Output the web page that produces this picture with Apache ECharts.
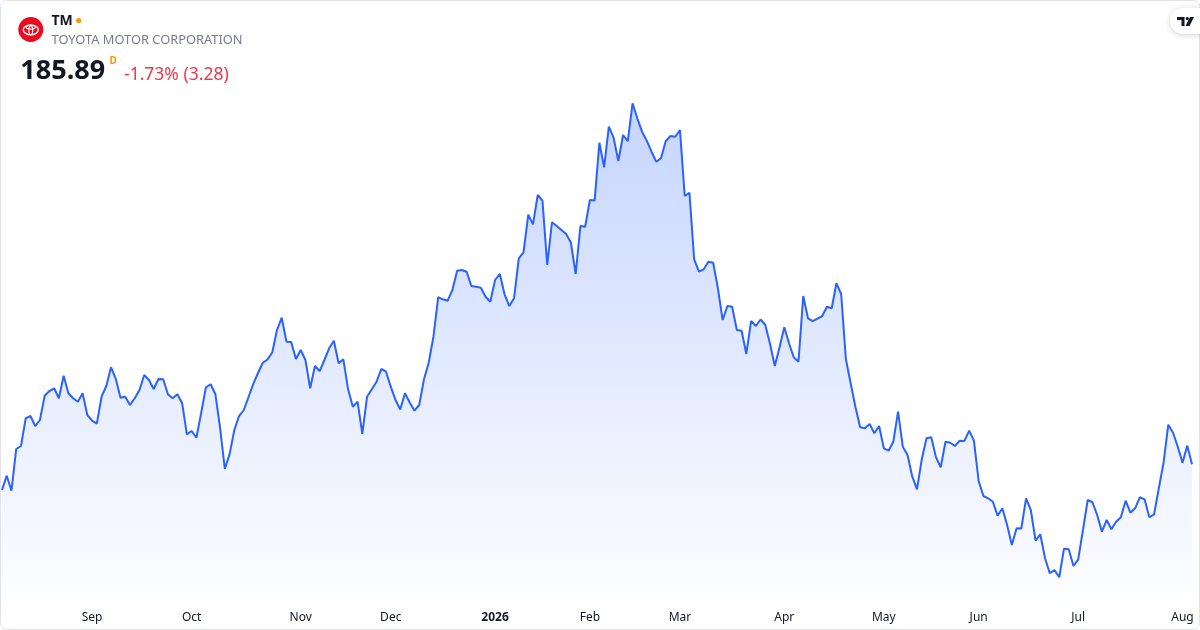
<!DOCTYPE html>
<html>
<head>
<meta charset="utf-8">
<title>TM</title>
<script src="https://cdn.jsdelivr.net/npm/echarts@6.0.0/dist/echarts.min.js"></script>
<style>
  html, body { margin: 0; padding: 0; background: #fff; }
  #main { width: 1200px; height: 630px; }
</style>
</head>
<body>
<div id="main"></div>
<script>
// daily closes, TM, Aug 5 2025 -> Aug 5 2026
var closes = [
  181.36, 183.88, 181.24, 188.58, 189.10, 193.98, 194.38, 192.62, 193.68, 197.96,
  198.78, 199.26, 197.50, 201.48, 198.38, 197.50, 196.90, 198.38, 194.56, 193.56,
  193.03, 197.78, 199.66, 202.96, 200.90, 197.60, 197.78, 196.32, 197.50, 198.96,
  201.60, 200.72, 199.14, 200.90, 200.84, 198.20, 197.50, 198.20, 196.62, 191.16,
  191.74, 190.56, 194.86, 199.40, 199.98, 198.26, 192.27, 185.06, 187.64, 191.92,
  194.38, 195.44, 197.73, 200.02, 201.95, 203.76, 204.33, 205.56, 209.52, 211.68,
  207.46, 207.40, 204.42, 206.00, 204.24, 199.26, 203.18, 202.30, 204.24, 206.30,
  207.64, 203.66, 204.36, 199.08, 196.02, 196.90, 191.22, 197.78, 199.08, 200.42,
  202.66, 202.18, 199.54, 197.20, 195.53, 198.38, 196.76, 195.32, 196.32, 200.84,
  203.76, 208.34, 215.28, 214.92, 214.68, 216.56, 219.96, 220.08, 219.78, 217.26,
  217.14, 216.96, 215.38, 214.50, 218.32, 219.38, 215.80, 213.74, 215.10, 222.14,
  223.20, 229.81, 228.12, 233.28, 232.28, 220.96, 228.48, 227.82, 227.12, 226.42,
  224.88, 219.38, 227.82, 227.70, 232.40, 232.30, 242.48, 238.16, 245.30, 243.36,
  239.26, 243.84, 242.78, 249.42, 246.78, 244.42, 242.84, 240.90, 239.14, 239.74,
  242.78, 243.66, 243.54, 244.72, 233.10, 233.68, 221.96, 219.78, 220.20, 221.54,
  221.36, 216.86, 211.28, 213.74, 213.62, 209.52, 209.40, 205.30, 211.10, 210.22,
  211.37, 210.40, 207.06, 203.18, 206.48, 210.00, 207.18, 204.72, 203.94, 215.50,
  211.58, 211.10, 211.51, 211.98, 213.62, 213.34, 217.74, 215.86, 204.36, 200.14,
  196.02, 192.40, 192.22, 192.98, 191.34, 192.62, 188.70, 188.28, 189.86, 195.14,
  188.98, 187.52, 183.70, 181.48, 186.76, 190.46, 190.64, 187.12, 185.36, 189.86,
  189.68, 189.10, 190.04, 190.00, 191.80, 190.04, 182.94, 180.30, 179.90, 179.30,
  176.84, 178.14, 175.20, 171.68, 174.62, 174.58, 179.90, 177.84, 172.44, 173.56,
  169.34, 166.70, 167.28, 166.00, 171.03, 170.92, 167.98, 169.16, 174.32, 179.60,
  179.20, 176.96, 174.02, 176.08, 174.44, 175.78, 176.56, 179.48, 177.36, 178.14,
  180.08, 179.72, 176.56, 177.08, 181.66, 186.16, 192.85, 191.44, 188.98, 186.16,
  189.17, 185.89
];

var startDay = '2025-08-05';
var holidays = ['2025-09-01', '2025-11-27', '2025-12-25', '2026-01-01', '2026-01-19',
  '2026-02-16', '2026-04-03', '2026-05-25', '2026-06-19', '2026-07-03'];
var monthNames = ['Jan', 'Feb', 'Mar', 'Apr', 'May', 'Jun', 'Jul', 'Aug', 'Sep', 'Oct', 'Nov', 'Dec'];

var ticker = 'TM';
var company = 'TOYOTA MOTOR CORPORATION';
var lastPrice = '185.89';
var change = '-1.73% (3.28)';

// trading days only
var dates = [];
var d = new Date(startDay + 'T00:00:00Z');
while (dates.length < closes.length) {
  var s = d.toISOString().slice(0, 10);
  var wd = d.getUTCDay();
  if (wd !== 0 && wd !== 6 && holidays.indexOf(s) < 0) dates.push(s);
  d.setUTCDate(d.getUTCDate() + 1);
}

function monthStart(i) {
  return i > 0 && dates[i].slice(5, 7) !== dates[i - 1].slice(5, 7);
}

var myChart = echarts.init(document.getElementById('main'));

var font = '"Noto Sans", Roboto, sans-serif';

var option = {
  animation: false,
  backgroundColor: '#ffffff',
  grid: { left: 2, right: 8, top: 0, bottom: 30 },
  xAxis: {
    type: 'category',
    data: dates,
    boundaryGap: false,
    axisLine: { show: false },
    axisTick: { show: false },
    splitLine: { show: false },
    axisLabel: {
      margin: 12,
      interval: function (index) { return monthStart(index); },
      formatter: function (value) {
        var m = +value.slice(5, 7);
        if (m === 1) return '{y|' + value.slice(0, 4) + '}';
        return '{m|' + monthNames[m - 1] + '}';
      },
      rich: {
        m: { fontSize: 12, color: '#131722', fontFamily: font },
        y: { fontSize: 12, color: '#131722', fontFamily: font, fontWeight: 'bold' }
      }
    }
  },
  yAxis: {
    type: 'value',
    show: false,
    min: 162,
    max: 267.6,
    splitLine: { show: false }
  },
  series: [{
    type: 'line',
    data: closes,
    symbol: 'none',
    lineStyle: { width: 2, color: '#2962ff' },
    areaStyle: {
      color: new echarts.graphic.LinearGradient(0, 0, 0, 1, [
        { offset: 0, color: 'rgba(41, 98, 255, 0.38)' },
        { offset: 1, color: 'rgba(41, 98, 255, 0.01)' }
      ])
    }
  }],
  graphic: [
    // frame
    { type: 'rect', shape: { x: 0.5, y: 0.5, width: 1199, height: 629, r: 6 },
      style: { fill: 'none', stroke: '#e0e3eb', lineWidth: 1 }, z: 10 },
    // toyota badge
    { type: 'circle', shape: { cx: 30.8, cy: 29.5, r: 12.5 }, style: { fill: '#eb0a1e' }, z: 10 },
    { type: 'ellipse', shape: { cx: 30.8, cy: 29.8, rx: 7.5, ry: 5 },
      style: { fill: 'none', stroke: '#fff', lineWidth: 1.3 }, z: 11 },
    { type: 'ellipse', shape: { cx: 30.8, cy: 27.3, rx: 4.6, ry: 1.8 },
      style: { fill: 'none', stroke: '#fff', lineWidth: 1.1 }, z: 11 },
    { type: 'ellipse', shape: { cx: 30.8, cy: 30.3, rx: 1.9, ry: 4.4 },
      style: { fill: 'none', stroke: '#fff', lineWidth: 1.1 }, z: 11 },
    // header text
    { type: 'text', x: 51.5, y: 21.5, z: 10,
      style: { text: ticker, font: 'bold 14px ' + font, fill: '#131722', textVerticalAlign: 'middle' } },
    { type: 'circle', shape: { cx: 78.7, cy: 20.5, r: 2.6 }, style: { fill: '#ff9800' }, z: 10 },
    { type: 'text', x: 51.5, y: 40.5, z: 10,
      style: { text: company, font: '12.85px ' + font, fill: '#7a7d87', textVerticalAlign: 'middle' } },
    { type: 'text', x: 20.3, y: 71.5, z: 10,
      style: { text: lastPrice, font: 'bold 27px ' + font, fill: '#131722', textVerticalAlign: 'middle' } },
    { type: 'text', x: 109.5, y: 61.5, z: 10,
      style: { text: 'D', font: 'bold 10px ' + font, fill: '#ff9800', textVerticalAlign: 'middle' } },
    { type: 'text', x: 124, y: 75, z: 10,
      style: { text: change, font: '17.5px ' + font, fill: '#f23645', textVerticalAlign: 'middle' } },
    // tradingview badge
    { type: 'rect', shape: { x: 1170, y: 8, width: 40, height: 26, r: 13 }, z: 10,
      style: { fill: '#fff', shadowBlur: 6, shadowColor: 'rgba(0,0,0,0.18)', shadowOffsetY: 1 } },
    { type: 'polygon', z: 11, shape: { points: [[1177, 17], [1184.5, 17], [1184.5, 26], [1181.5, 26], [1181.5, 20], [1177, 20]] },
      style: { fill: '#131722' } },
    { type: 'circle', z: 11, shape: { cx: 1187.3, cy: 18.6, r: 1.6 }, style: { fill: '#131722' } },
    { type: 'polygon', z: 11, shape: { points: [[1190, 17], [1194, 17], [1189.5, 26], [1185.5, 26]] },
      style: { fill: '#131722' } }
  ]
};

myChart.setOption(option);
</script>
</body>
</html>
